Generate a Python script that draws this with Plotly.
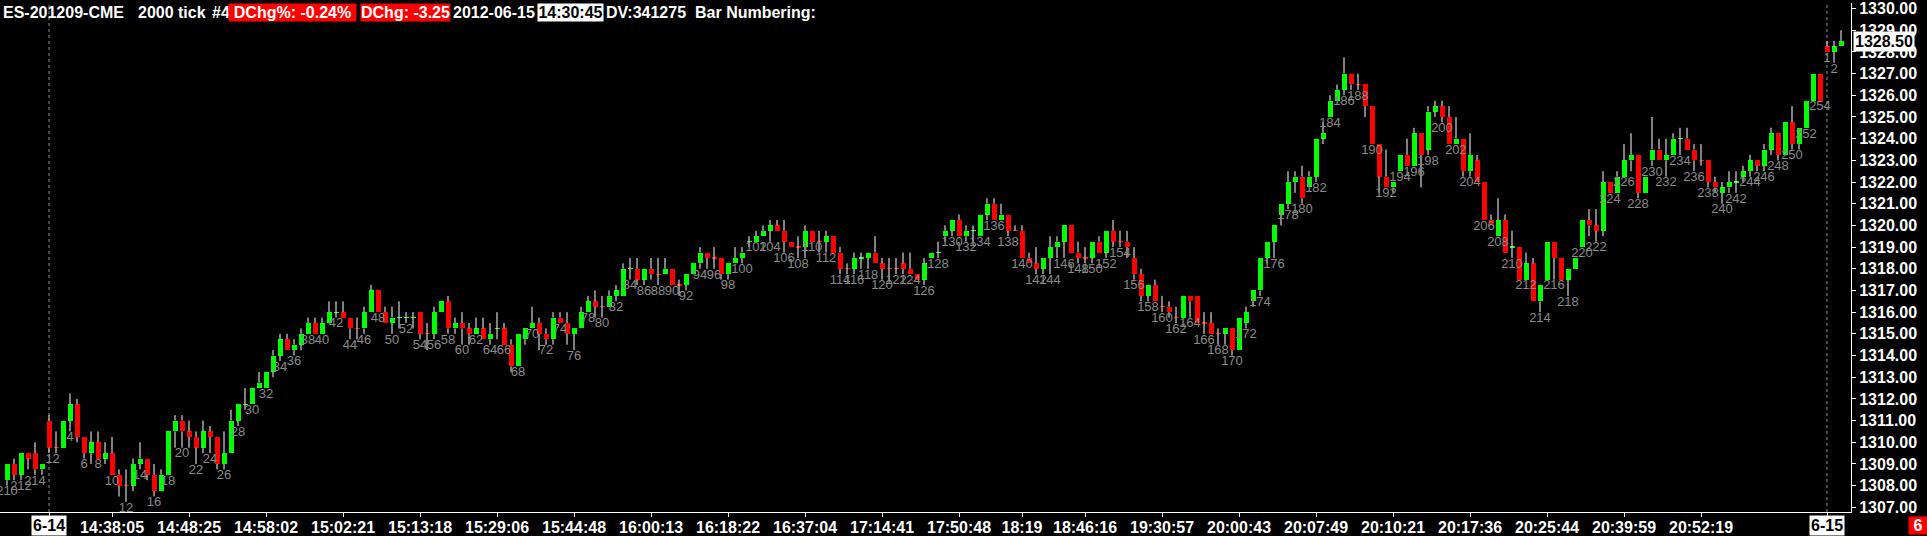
import plotly.graph_objects as go

# ---------------- data ----------------
prev_day_numbers = [210, 211, 212, 213, 214, 215]
day_numbers = list(range(1, 255))
next_day_numbers = [1, 2, 3]
bar_numbers = prev_day_numbers + day_numbers + next_day_numbers

opens = [
    1308.25, 1309.0, 1308.5, 1309.5, 1309.5, 1308.75,
    # 1-10
    1311.0, 1309.75, 1309.75, 1311.0, 1311.75, 1310.25, 1309.5, 1310.0, 1309.25, 1309.5,
    # 11-20
    1308.5, 1308.0, 1308.0, 1309.0, 1309.25, 1308.5, 1307.75, 1308.5, 1310.5, 1311.0,
    # 21-30
    1310.5, 1310.25, 1309.75, 1310.5, 1310.25, 1309.0, 1309.5, 1311.0, 1311.75, 1311.75,
    # 31-40
    1312.5, 1312.5, 1313.25, 1314.0, 1314.75, 1314.25, 1314.5, 1315.0, 1315.5, 1315.0,
    # 41-50
    1315.5, 1316.0, 1316.0, 1315.75, 1315.25, 1315.25, 1316.0, 1317.0, 1316.0, 1315.5,
    # 51-60
    1315.75, 1315.75, 1315.75, 1316.0, 1315.0, 1315.0, 1316.0, 1316.5, 1315.25, 1315.5,
    # 61-70
    1315.25, 1315.0, 1315.25, 1314.75, 1315.25, 1315.25, 1314.5, 1313.5, 1314.75, 1315.25,
    # 71-80
    1315.5, 1315.0, 1314.75, 1315.75, 1315.5, 1315.0, 1315.25, 1316.0, 1316.5, 1316.25,
    # 81-90
    1316.25, 1316.75, 1316.75, 1318.0, 1318.0, 1317.5, 1318.0, 1317.75, 1317.75, 1318.0,
    # 91-100
    1317.25, 1317.25, 1317.75, 1318.25, 1318.75, 1318.5, 1318.5, 1317.75, 1318.25, 1318.5,
    # 101-110
    1319.25, 1319.25, 1319.5, 1319.75, 1320.0, 1319.75, 1319.25, 1319.0, 1319.0, 1319.75,
    # 111-120
    1319.25, 1319.25, 1319.5, 1318.75, 1318.0, 1318.0, 1318.5, 1318.5, 1318.75, 1318.25,
    # 121-130
    1318.0, 1318.0, 1318.25, 1318.0, 1317.75, 1317.5, 1318.5, 1318.75, 1319.5, 1319.75,
    # 131-140
    1320.25, 1319.5, 1319.75, 1319.5, 1320.5, 1321.0, 1320.25, 1320.5, 1319.75, 1319.75,
    # 141-150
    1318.5, 1318.25, 1318.0, 1318.5, 1319.0, 1319.25, 1320.0, 1318.75, 1318.5, 1318.5,
    # 151-160
    1319.25, 1318.75, 1319.75, 1319.25, 1319.25, 1318.5, 1317.75, 1316.75, 1317.25, 1316.25,
    # 161-170
    1316.25, 1315.75, 1315.75, 1316.75, 1316.75, 1315.5, 1315.5, 1315.0, 1315.0, 1315.25,
    # 171-180
    1314.25, 1315.5, 1316.5, 1317.0, 1318.5, 1319.25, 1320.5, 1321.0, 1322.0, 1322.25,
    # 181-190
    1321.75, 1322.25, 1324.0, 1325.0, 1325.75, 1326.25, 1327.0, 1326.5, 1326.5, 1325.5,
    # 191-200
    1323.75, 1322.25, 1321.75, 1322.5, 1323.25, 1322.75, 1324.25, 1323.5, 1325.25, 1325.5,
    # 201-210
    1325.0, 1323.75, 1324.0, 1322.5, 1323.0, 1322.0, 1320.25, 1319.5, 1320.25, 1319.0,
    # 211-220
    1319.0, 1317.5, 1318.25, 1316.5, 1317.5, 1319.25, 1318.5, 1317.5, 1318.0, 1319.0,
    # 221-230
    1320.25, 1320.0, 1319.75, 1322.0, 1321.5, 1322.25, 1323.0, 1323.25, 1321.5, 1323.0,
    # 231-240
    1323.5, 1323.0, 1323.25, 1324.0, 1324.0, 1323.5, 1323.0, 1323.0, 1322.0, 1321.5,
    # 241-250
    1321.75, 1322.0, 1322.25, 1322.5, 1323.0, 1322.75, 1323.5, 1324.25, 1323.25, 1324.75,
    # 251-254
    1323.75, 1324.5, 1325.75, 1327.0,
    # next day 1-3
    1328.25, 1328.0, 1328.25,
]

highs = [
    1309.0, 1309.25, 1309.5, 1309.5, 1310.0, 1309.0,
    1311.25, 1310.5, 1311.0, 1312.25, 1312.0, 1310.25, 1310.5, 1310.5, 1310.0, 1310.25,
    1308.75, 1308.75, 1309.25, 1310.0, 1309.25, 1309.0, 1308.75, 1310.5, 1311.25, 1311.25,
    1311.0, 1310.5, 1311.0, 1310.75, 1310.25, 1310.5, 1311.5, 1311.75, 1312.5, 1312.5,
    1313.25, 1313.25, 1314.25, 1315.0, 1315.0, 1314.75, 1315.25, 1315.75, 1315.75, 1315.75,
    1316.5, 1316.5, 1316.5, 1315.75, 1315.75, 1316.25, 1317.25, 1317.0, 1316.25, 1316.25,
    1316.5, 1316.0, 1316.0, 1316.0, 1315.5, 1316.25, 1316.5, 1316.75, 1315.75, 1316.0,
    1315.5, 1315.75, 1315.75, 1315.5, 1316.0, 1315.5, 1314.75, 1315.0, 1315.25, 1316.25,
    1315.75, 1315.25, 1316.0, 1316.0, 1316.0, 1315.25, 1316.25, 1316.75, 1317.0, 1316.75,
    1317.0, 1317.25, 1318.25, 1318.5, 1318.5, 1318.0, 1318.5, 1318.5, 1318.5, 1318.0,
    1317.5, 1317.75, 1318.25, 1319.0, 1318.75, 1319.0, 1318.5, 1318.25, 1319.0, 1319.0,
    1319.5, 1319.75, 1320.0, 1320.25, 1320.25, 1320.25, 1319.25, 1319.5, 1320.0, 1319.75,
    1319.75, 1319.75, 1319.5, 1319.0, 1318.25, 1318.75, 1318.75, 1318.75, 1319.5, 1318.5,
    1318.5, 1318.5, 1318.75, 1318.75, 1317.75, 1318.5, 1318.75, 1319.25, 1320.0, 1320.25,
    1320.5, 1320.0, 1320.0, 1320.5, 1321.25, 1321.25, 1321.0, 1320.5, 1320.0, 1320.0,
    1318.75, 1319.0, 1318.5, 1319.5, 1319.5, 1320.0, 1320.0, 1319.25, 1319.0, 1319.25,
    1319.5, 1319.75, 1320.25, 1319.75, 1319.75, 1319.0, 1318.0, 1317.25, 1317.5, 1316.75,
    1316.5, 1316.25, 1316.75, 1316.75, 1316.75, 1316.0, 1316.0, 1315.25, 1315.25, 1315.25,
    1315.75, 1316.25, 1317.0, 1318.5, 1319.25, 1320.0, 1321.0, 1322.5, 1322.5, 1322.75,
    1322.5, 1324.0, 1324.75, 1326.0, 1326.5, 1327.75, 1327.0, 1327.0, 1326.5, 1325.5,
    1323.75, 1323.5, 1322.0, 1323.25, 1324.0, 1324.5, 1324.25, 1325.5, 1325.75, 1325.75,
    1325.5, 1325.0, 1324.0, 1324.25, 1323.25, 1322.0, 1320.5, 1321.25, 1320.5, 1319.75,
    1319.0, 1318.75, 1318.5, 1317.25, 1319.25, 1319.25, 1318.5, 1318.0, 1318.5, 1320.25,
    1320.75, 1320.75, 1322.5, 1322.0, 1322.5, 1323.75, 1324.25, 1323.25, 1322.25, 1325.0,
    1324.0, 1324.0, 1324.25, 1324.5, 1324.5, 1323.75, 1323.75, 1323.0, 1322.25, 1322.0,
    1322.5, 1322.5, 1322.75, 1323.25, 1323.0, 1323.75, 1324.5, 1324.25, 1324.75, 1325.5,
    1324.5, 1325.75, 1327.0, 1327.0,
    1328.5, 1328.5, 1329.0,
]

lows = [
    1308.0, 1308.25, 1308.25, 1308.75, 1308.5, 1308.5,
    1309.5, 1309.5, 1309.75, 1310.5, 1310.0, 1309.25, 1309.0, 1309.25, 1309.0, 1308.5,
    1307.5, 1307.25, 1307.75, 1308.75, 1308.25, 1307.5, 1307.75, 1308.5, 1309.75, 1309.75,
    1309.75, 1309.0, 1309.5, 1309.5, 1308.75, 1308.75, 1309.5, 1310.75, 1311.5, 1311.75,
    1312.5, 1312.5, 1313.0, 1313.75, 1314.25, 1314.0, 1314.25, 1315.0, 1315.0, 1315.0,
    1315.5, 1315.75, 1315.75, 1314.75, 1314.75, 1315.0, 1316.0, 1316.0, 1315.5, 1315.0,
    1315.25, 1315.5, 1315.25, 1314.75, 1314.25, 1314.75, 1316.0, 1315.0, 1315.0, 1314.5,
    1314.5, 1315.0, 1314.75, 1314.5, 1314.75, 1314.5, 1313.25, 1313.5, 1314.5, 1315.25,
    1314.25, 1314.5, 1314.5, 1315.5, 1314.5, 1314.25, 1315.25, 1316.0, 1315.75, 1315.75,
    1316.25, 1316.5, 1316.75, 1317.5, 1317.25, 1317.25, 1317.5, 1317.25, 1317.75, 1317.25,
    1316.75, 1317.0, 1317.75, 1318.0, 1318.0, 1318.0, 1317.5, 1317.5, 1318.25, 1318.25,
    1319.0, 1319.25, 1319.5, 1319.25, 1319.75, 1318.75, 1319.0, 1318.5, 1318.5, 1319.25,
    1318.75, 1318.75, 1318.75, 1317.75, 1317.75, 1317.75, 1318.0, 1318.0, 1318.25, 1317.5,
    1317.5, 1317.75, 1317.75, 1317.75, 1317.5, 1317.25, 1318.5, 1318.5, 1319.25, 1319.5,
    1319.5, 1319.25, 1319.25, 1319.5, 1320.25, 1320.25, 1320.25, 1319.5, 1319.75, 1318.5,
    1318.25, 1317.75, 1317.75, 1317.75, 1318.5, 1318.5, 1318.75, 1318.25, 1318.25, 1318.25,
    1318.75, 1318.5, 1319.0, 1319.0, 1318.5, 1317.5, 1316.5, 1316.5, 1316.5, 1316.0,
    1315.75, 1315.5, 1315.75, 1315.75, 1315.5, 1315.0, 1315.0, 1314.5, 1314.5, 1314.0,
    1314.25, 1315.25, 1316.25, 1316.75, 1318.25, 1318.5, 1320.0, 1320.75, 1321.5, 1321.0,
    1321.75, 1322.0, 1323.75, 1325.0, 1325.75, 1326.0, 1326.25, 1326.25, 1325.0, 1323.75,
    1321.5, 1321.75, 1321.5, 1322.5, 1322.75, 1322.75, 1321.75, 1323.25, 1325.0, 1324.75,
    1323.75, 1323.75, 1322.25, 1322.25, 1322.0, 1320.25, 1320.0, 1319.5, 1318.75, 1318.5,
    1317.5, 1317.5, 1316.5, 1316.0, 1317.5, 1317.5, 1317.5, 1316.75, 1318.0, 1319.0,
    1319.5, 1319.25, 1319.5, 1321.5, 1321.5, 1322.25, 1322.5, 1321.25, 1321.5, 1322.75,
    1323.0, 1322.25, 1323.25, 1323.25, 1323.5, 1322.5, 1322.75, 1321.75, 1321.5, 1321.0,
    1321.5, 1321.5, 1322.0, 1322.25, 1322.5, 1322.5, 1323.25, 1323.0, 1323.25, 1323.5,
    1323.5, 1324.5, 1325.75, 1325.75,
    1328.0, 1327.5, 1328.25,
]

closes = [
    1309.0, 1308.5, 1309.5, 1309.25, 1308.75, 1309.0,
    1309.75, 1309.75, 1311.0, 1311.75, 1310.25, 1309.5, 1310.0, 1309.25, 1309.5, 1308.5,
    1308.0, 1308.0, 1309.0, 1309.25, 1308.5, 1307.75, 1308.5, 1310.5, 1311.0, 1310.5,
    1310.25, 1309.75, 1310.5, 1310.25, 1309.0, 1309.5, 1311.0, 1311.75, 1311.75, 1312.5,
    1312.75, 1313.25, 1314.0, 1314.75, 1314.25, 1314.5, 1315.0, 1315.5, 1315.0, 1315.5,
    1316.0, 1316.0, 1315.75, 1315.25, 1315.25, 1316.0, 1317.0, 1316.0, 1315.5, 1315.75,
    1315.75, 1315.75, 1315.75, 1315.0, 1315.0, 1316.0, 1316.5, 1315.25, 1315.5, 1315.25,
    1315.0, 1315.25, 1314.75, 1315.0, 1315.25, 1314.5, 1313.5, 1315.0, 1315.25, 1315.5,
    1315.0, 1314.75, 1315.75, 1315.5, 1315.0, 1315.25, 1316.0, 1316.5, 1316.25, 1316.25,
    1316.75, 1317.0, 1318.0, 1318.0, 1317.5, 1318.0, 1317.75, 1317.75, 1318.0, 1317.25,
    1317.25, 1317.75, 1318.25, 1318.75, 1318.5, 1318.5, 1317.75, 1318.25, 1318.5, 1318.75,
    1319.25, 1319.5, 1319.75, 1320.0, 1319.75, 1319.25, 1319.0, 1319.0, 1319.75, 1319.25,
    1319.25, 1319.5, 1318.75, 1318.0, 1318.0, 1318.5, 1318.5, 1318.75, 1318.25, 1318.0,
    1318.0, 1318.0, 1318.0, 1317.75, 1317.5, 1318.25, 1318.75, 1318.75, 1319.75, 1320.25,
    1319.5, 1319.75, 1319.75, 1320.5, 1321.0, 1320.25, 1320.5, 1319.75, 1319.75, 1318.5,
    1318.25, 1318.0, 1318.5, 1319.0, 1319.25, 1320.0, 1318.75, 1318.5, 1318.5, 1319.25,
    1318.75, 1319.75, 1319.25, 1319.25, 1319.0, 1317.75, 1316.75, 1317.25, 1316.5, 1316.25,
    1316.0, 1315.75, 1316.75, 1316.5, 1315.5, 1315.5, 1315.0, 1315.0, 1315.25, 1314.25,
    1315.75, 1316.0, 1317.0, 1318.5, 1319.25, 1320.0, 1321.0, 1322.0, 1322.25, 1321.25,
    1322.25, 1324.0, 1324.25, 1325.75, 1326.25, 1327.0, 1326.5, 1326.5, 1325.5, 1323.75,
    1322.25, 1321.75, 1322.0, 1323.25, 1322.75, 1324.25, 1323.25, 1325.25, 1325.5, 1325.0,
    1323.75, 1324.0, 1322.5, 1323.25, 1322.0, 1320.25, 1320.0, 1320.25, 1318.75, 1319.0,
    1317.5, 1318.25, 1316.5, 1317.25, 1319.25, 1318.5, 1317.5, 1318.0, 1318.5, 1320.25,
    1320.0, 1319.75, 1322.0, 1321.5, 1322.25, 1323.0, 1323.25, 1321.5, 1322.25, 1323.5,
    1323.0, 1323.25, 1324.0, 1324.0, 1323.5, 1323.0, 1323.0, 1322.0, 1321.75, 1321.75,
    1322.0, 1322.0, 1322.5, 1323.0, 1322.75, 1323.5, 1324.25, 1323.25, 1324.75, 1323.75,
    1324.5, 1325.75, 1327.0, 1325.75,
    1328.0, 1328.25, 1328.5,
]

time_tick_bars = [10, 21, 32, 43, 54, 65, 76, 87, 98, 109, 120, 131, 140, 149, 160,
                  171, 182, 193, 204, 215, 226, 237]
time_tick_labels = ["14:38:05", "14:48:25", "14:58:02", "15:02:21", "15:13:18", "15:29:06",
                    "15:44:48", "16:00:13", "16:18:22", "16:37:04", "17:14:41", "17:50:48",
                    "18:19", "18:46:16", "19:30:57", "20:00:43", "20:07:49", "20:10:21",
                    "20:17:36", "20:25:44", "20:39:59", "20:52:19"]
date_labels = ["6-14", "6-15"]

symbol_text = "ES-201209-CME"
period_text = "2000 tick"
chart_no_text = "#4"
dchg_pct_text = "DChg%: -0.24%"
dchg_text = "DChg: -3.25"
date_text = "2012-06-15"
time_text = "14:30:45"
dv_text = "DV:341275"
bar_numbering_text = "Bar Numbering:"
counter_text = "6"
last_price = closes[-1]

# ---------------- geometry helpers ----------------
W, H = 1927, 536
ML, MR, MT, MB = 0, 76, 0, 24
PW, PH = W - ML - MR, H - MT - MB
BAR_PX = 7.0
FIRST_DAY_PX = 49.0
n_prev = len(prev_day_numbers)
x_idx = [k - n_prev for k in range(len(bar_numbers))]
day_start_idx = 0
next_day_idx = len(day_numbers)
x_min = -FIRST_DAY_PX / BAR_PX
x_max = (PW - FIRST_DAY_PX) / BAR_PX
y_min, y_max = 1306.785, 1330.255


def px_x(px):
    return px / PW


def px_y(py):
    return (PH - py) / PH


GREEN = "#00ff00"
RED = "#ff0000"

# body colours (a doji keeps the direction versus the previous close / previous colour)
colors = []
for k in range(len(opens)):
    if closes[k] > opens[k]:
        c = GREEN
    elif closes[k] < opens[k]:
        c = RED
    else:
        if k > 0 and closes[k] > closes[k - 1]:
            c = GREEN
        elif k > 0 and closes[k] < closes[k - 1]:
            c = RED
        else:
            c = colors[-1] if colors else GREEN
    colors.append(c)

doji_h = 0.055
bases, heights = [], []
for o, c in zip(opens, closes):
    lo, hi = min(o, c), max(o, c)
    if hi - lo < 1e-9:
        bases.append(lo - doji_h / 2)
        heights.append(doji_h)
    else:
        bases.append(lo)
        heights.append(hi - lo)

wx, wy = [], []
for xi, o, h, l, c in zip(x_idx, opens, highs, lows, closes):
    lo, hi = min(o, c), max(o, c)
    if l < lo:
        wx += [xi, xi, None]
        wy += [l, lo, None]
    if h > hi:
        wx += [xi, xi, None]
        wy += [hi, h, None]

# bar-number labels: bar 1 and even bars of each session
lab_x, lab_y, lab_t = [], [], []
for k, (xi, num) in enumerate(zip(x_idx, bar_numbers)):
    is_first = (k == n_prev) or (k == n_prev + len(day_numbers))
    if num % 2 == 0 or is_first:
        lab_x.append(xi)
        lab_y.append(lows[k])
        lab_t.append(str(num))

fig = go.Figure()

fig.add_trace(go.Scatter(x=wx, y=wy, mode="lines",
                         line=dict(color="#ffffff", width=1),
                         hoverinfo="skip", showlegend=False))
fig.add_trace(go.Bar(x=x_idx, y=heights, base=bases, width=5 / 7,
                     marker=dict(color=colors, line=dict(width=0)),
                     hoverinfo="skip", showlegend=False))
fig.add_trace(go.Scatter(x=lab_x, y=lab_y, text=lab_t, mode="text",
                         textposition="bottom center",
                         textfont=dict(family="Liberation Sans Narrow, Liberation Sans, Arial",
                                       size=13, color="#8a8a8a"),
                         hoverinfo="skip", showlegend=False, cliponaxis=False))

tick_vals = [day_start_idx] + [b - 1 for b in time_tick_bars] + [next_day_idx]
tick_text = [""] + time_tick_labels + [""]

FONT = "Liberation Sans, Arial, sans-serif"
bold16 = dict(family=FONT, size=16, color="#ffffff", weight="bold")

fig.update_layout(
    width=W, height=H,
    margin=dict(l=ML, r=MR, t=MT, b=MB, pad=0),
    paper_bgcolor="#000000", plot_bgcolor="#000000",
    showlegend=False, hovermode=False, bargap=0,
    xaxis=dict(range=[x_min, x_max], showgrid=False, zeroline=False,
               showline=True, linecolor="#ffffff", linewidth=1,
               ticks="outside", ticklen=4, tickcolor="#ffffff", tickwidth=1,
               tickvals=tick_vals, ticktext=tick_text, tickfont=bold16,
               ticklabelstandoff=-3, ticklabeloverflow="allow", fixedrange=True),
    yaxis=dict(range=[y_min, y_max], side="right", showgrid=False, zeroline=False,
               showline=True, linecolor="#ffffff", linewidth=1,
               ticks="outside", ticklen=4, tickcolor="#ffffff", tickwidth=1,
               dtick=1, tick0=1307, tickformat=".2f", tickfont=bold16,
               ticklabelstandoff=0, ticklabeloverflow="allow", fixedrange=True),
)

# day separators
for xi in (day_start_idx, next_day_idx):
    fig.add_shape(type="line", xref="x", yref="paper", x0=xi, x1=xi, y0=0, y1=1,
                  line=dict(color="#8c8c8c", width=1, dash="3px,3px"), layer="below")

ann = []
# header
header = [
    (symbol_text, 2, None, "#ffffff", None),
    (period_text, 137, None, "#ffffff", None),
    (chart_no_text, 211, None, "#ffffff", None),
    (dchg_pct_text, 228, 127, "#ffffff", RED),
    (dchg_text, 360, 89, "#ffffff", RED),
    (date_text, 452, None, "#ffffff", None),
    (time_text, 537, 65, "#000000", "#ffffff"),
    (dv_text, 605, None, "#ffffff", None),
    (bar_numbering_text, 694, None, "#ffffff", None),
]
for text, px, wbox, fc, bg in header:
    a = dict(text=text, xref="paper", yref="paper", x=px_x(px), y=1,
             xanchor="left", yanchor="top", showarrow=False, borderpad=0,
             font=dict(family=FONT, size=16, color=fc, weight="bold"), align="center")
    if wbox:
        a["width"] = wbox
    if bg:
        a["bgcolor"] = bg
    ann.append(a)

# date boxes on x axis
for xi, t in zip((day_start_idx, next_day_idx), date_labels):
    ann.append(dict(text=t, xref="x", yref="paper", x=xi, y=0, yanchor="top",
                    xanchor="center", yshift=-3, showarrow=False, bgcolor="#ffffff",
                    borderpad=1, font=dict(family=FONT, size=16, color="#000000",
                                           weight="bold")))

# current price box
ann.append(dict(text=f"{last_price:.2f}", xref="paper", yref="y", x=1, y=last_price,
                xanchor="left", yanchor="middle", xshift=2, showarrow=False,
                bgcolor="#ffffff", borderpad=1,
                font=dict(family=FONT, size=16, color="#000000", weight="bold")))

# red counter box bottom right
ann.append(dict(text=counter_text, xref="paper", yref="paper", x=px_x(1908), y=px_y(516),
                xanchor="left", yanchor="top", showarrow=False, bgcolor=RED,
                width=18, borderpad=0, align="center",
                font=dict(family=FONT, size=16, color="#ffffff", weight="bold")))

fig.update_layout(annotations=ann)

fig.write_html("out.html",
               config={"displayModeBar": False, "staticPlot": True},
               post_script="document.body.style.margin='0px';"
                           "document.body.style.background='#000000';")
